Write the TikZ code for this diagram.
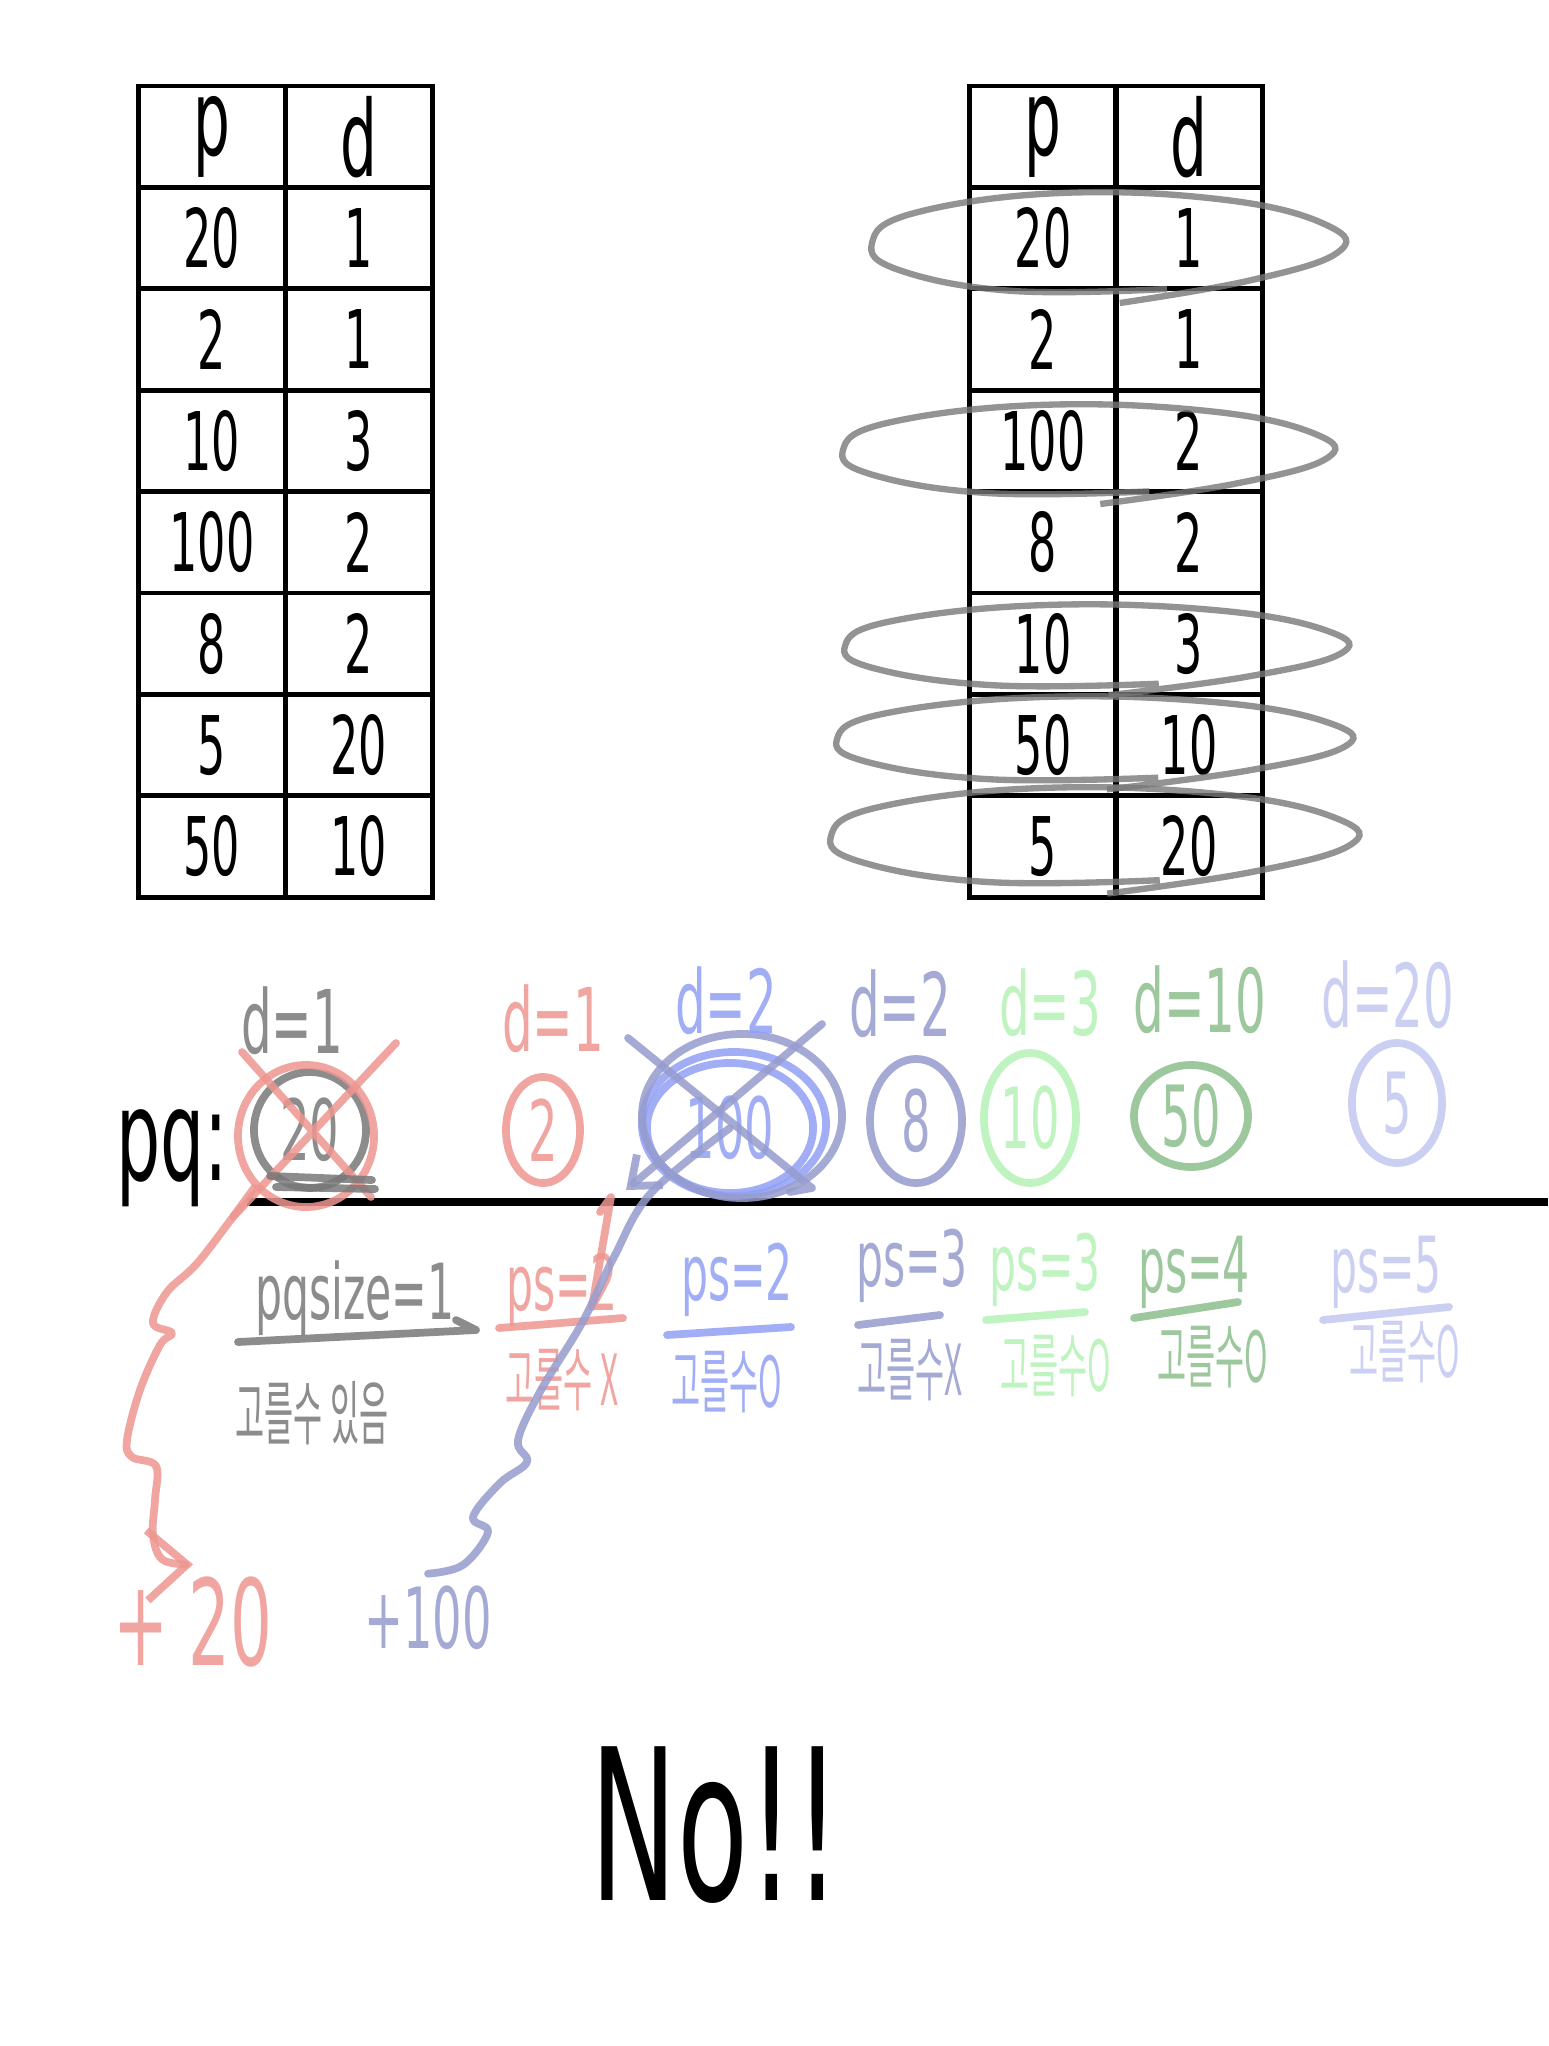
\documentclass[tikz,border=0pt]{standalone}
\usepackage{fontspec}
\usetikzlibrary{positioning,arrows.meta,shapes.geometric}
\newfontfamily\hand[FakeStretch=0.55]{DejaVu Sans}
\newfontfamily\kor[FakeStretch=0.45]{Noto Sans CJK KR}
\definecolor{pengray}{RGB}{120,120,120}
\definecolor{penred}{RGB}{238,150,144}
\definecolor{penblue}{RGB}{145,160,245}
\definecolor{penslate}{RGB}{150,156,206}
\definecolor{penmint}{RGB}{180,242,180}
\definecolor{pengreen}{RGB}{140,190,140}
\definecolor{penlilac}{RGB}{195,200,242}

\tikzset{
  cell/.style={draw, line width=1.3pt, minimum width=1.47cm, minimum height=1.014cm,
    inner sep=0pt, font=\hand\fontsize{23}{25}\selectfont},
  headcell/.style={cell, font=\hand\fontsize{30}{32}\selectfont},
  ringline/.style={draw=pengray, line width=1.8pt, opacity=0.8},
  pen/.style={line width=2.2pt, line cap=round, line join=round, opacity=0.85},
  ring/.style={draw=#1, text=#1, ellipse, line width=2.2pt, opacity=0.85, inner sep=0pt,
    font=\hand\fontsize{24}{26}\selectfont},
  dlabel/.style={text=#1, opacity=0.85, font=\hand\fontsize{25}{27}\selectfont},
  pslabel/.style={text=#1, opacity=0.85, font=\hand\fontsize{22}{24}\selectfont},
  korlabel/.style={text=#1, opacity=0.85, font=\kor\fontsize{20}{22}\selectfont}
}

% open hand-drawn loop: centre x, centre y, x radius, y radius
\newcommand\penloop[4]{%
  \draw[ringline] plot[smooth, tension=0.7] coordinates {
    (#1+0.25*#3,#2+0.92*#4) (#1-0.4*#3,#2+0.96*#4) (#1-0.88*#3,#2+0.55*#4)
    (#1-#3,#2) (#1-0.82*#3,#2-0.6*#4) (#1-0.2*#3,#2-#4) (#1+0.5*#3,#2-0.86*#4)
    (#1+0.93*#3,#2-0.35*#4) (#1+0.97*#3,#2+0.2*#4) (#1+0.6*#3,#2+0.75*#4)
    (#1+0.05*#3,#2+1.2*#4)};}

\begin{document}
\begin{tikzpicture}[x=0.01cm, y=-0.01cm]
  \fill[white] (0,0) rectangle (1548,2046);
  \useasboundingbox (0,0) rectangle (1548,2046);

  % tables
  \node[headcell] (lp0) at (212,136.7) {p};
  \node[headcell] (ld0) at (359,136.7) {d};
  \foreach \pv/\dv [count=\i] in {20/1,2/1,10/3,100/2,8/2,5/20,50/10}
    {\node[cell] (lp\i) at (212,136.7+101.4*\i) {\pv};
     \node[cell] (ld\i) at (359,136.7+101.4*\i) {\dv};}
  \node[headcell] (rp0) at (1043,136.7) {p};
  \node[headcell] (rd0) at (1189,136.7) {d};
  \foreach \pv/\dv [count=\i] in {20/1,2/1,100/2,8/2,10/3,50/10,5/20}
    {\node[cell] (rp\i) at (1043,136.7+101.4*\i) {\pv};
     \node[cell] (rd\i) at (1189,136.7+101.4*\i) {\dv};}

  \penloop{1108}{243}{236}{50}
  \penloop{1088}{450}{245}{45}
  \penloop{1096}{646}{251}{41}
  \penloop{1094}{739}{257}{42}
  \penloop{1094}{836}{263}{48}

  % priority queue
  \node[font=\hand\fontsize{36}{40}\selectfont] (pq) at (172,1158) {pq:};
  \draw[line width=2.2pt] (247,1202) -- (1548,1202);

  \foreach \name/\x/\y/\w/\h/\col/\num in {
      g1/310/1130/1.12/1.16/pengray/20, r1/306/1136/1.36/1.42/penred/,
      r2/543/1130/0.74/1.06/penred/2, b1/730/1128/1.66/1.30/penblue/100,
      b2/734/1124/1.84/1.44/penblue/, s1/742/1116/2.0/1.64/penslate/,
      s2/916/1121/0.92/1.24/penslate/8, m1/1030/1118/0.92/1.30/penmint/10,
      n1/1191/1116/1.14/1.02/pengreen/50, l1/1397/1103/0.90/1.20/penlilac/5}
    \node[ring=\col, minimum width=\w cm, minimum height=\h cm] (\name) at (\x,\y) {\num};

  \foreach \name/\x/\y/\col/\txt in {
      dg/292/1021/pengray/d=1, dr/553/1019/penred/d=1, db/726/1001/penblue/d=2,
      ds/900/1004/penslate/d=2, dm/1050/1003/penmint/d=3, dn/1200/1000/pengreen/d=10,
      dl/1388/995/penlilac/d=20}
    \node[dlabel=\col] (\name) at (\x,\y) {\txt};

  % crossed out
  \draw[pen, draw=penred] (242,1052) -- (371,1197) (396,1043) -- (233,1217);
  \draw[pen, draw=pengray] (270,1176) -- (372,1180) (276,1187) -- (375,1189);
  \draw[pen, draw=penslate] (628,1038) -- (812,1188) -- (790,1192);
  \draw[pen, draw=penslate, -{Straight Barb[length=2.5mm, width=4mm]}] (822,1024) -- (626,1190);

  % sizes
  \node[pslabel=pengray] (pg) at (355,1298) {pqsize=1};
  \draw[pen, draw=pengray] (238,1342) -- (476,1330) -- (456,1320);
  \foreach \name/\x/\y/\col/\txt/\ua/\ub/\uc/\ud in {
      pr/562/1290/penred/ps=2/499/1328/623/1318, pb/737/1280/penblue/ps=2/667/1335/791/1327,
      ps/912/1266/penslate/ps=3/858/1325/940/1315, pm/1045/1270/penmint/ps=3/986/1320/1085/1312,
      pn/1194/1272/pengreen/ps=4/1134/1318/1238/1302, pl/1386/1272/penlilac/ps=5/1323/1320/1449/1307}
    {\node[pslabel=\col] (\name) at (\x,\y) {\txt};
     \draw[pen, draw=\col] (\ua,\ub) -- (\uc,\ud);}
  \draw[pen, draw=penred] (600,1212) -- (611,1197) -- (592,1307);

  \foreach \name/\x/\y/\col/\txt in {
      kg/312/1413/pengray/고를수 있음, kr/562/1380/penred/고를수 X,
      kb/727/1382/penblue/고를수O, ks/910/1370/penslate/고를수X,
      km/1056/1366/penmint/고를수O, kn/1213/1357/pengreen/고를수O,
      kl/1405/1352/penlilac/고를수O}
    \node[korlabel=\col] (\name) at (\x,\y) {\txt};

  % popped
  \node[text=penred, opacity=0.85, font=\hand\fontsize{34}{36}\selectfont] (p20) at (193,1622) {+\,20};
  \node[text=penslate, opacity=0.85, font=\hand\fontsize{24}{26}\selectfont] (p100) at (428,1618) {+100};
  \draw[pen, draw=penred, -{Straight Barb[length=4mm, width=7mm]}] plot[smooth, tension=0.6]
    coordinates {(r1.225) (200,1260) (167,1292) (153,1323) (172,1333) (160,1345) (140,1390)
    (127,1440) (132,1457) (156,1466) (155,1500) (153,1535) (163,1560) (p20.north)};
  \draw[pen, draw=penslate] plot[smooth, tension=0.6]
    coordinates {(b1.center) (651,1193) (614,1257) (582,1323) (541,1390) (518,1440)
    (527,1462) (500,1483) (473,1517) (488,1532) (463,1565) (p100.north)};

  \node[font=\hand\fontsize{60}{64}\selectfont] (no) at (716,1825) {No!!};
\end{tikzpicture}
\end{document}
